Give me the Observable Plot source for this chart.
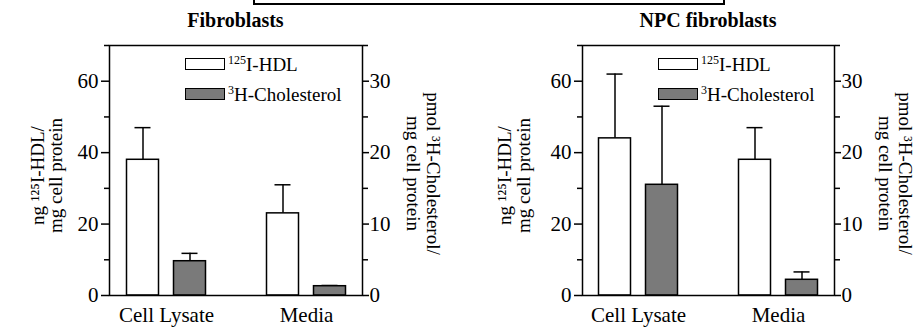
<!DOCTYPE html>
<html><head><meta charset="utf-8">
<script src="https://cdn.jsdelivr.net/npm/d3@7"></script>
<script src="https://cdn.jsdelivr.net/npm/@observablehq/plot@0.6"></script>
<style>
body{margin:0;background:#fff;font-family:"Liberation Serif",serif;color:#000;}
#wrap{position:relative;width:919px;height:328px;overflow:hidden;background:#fff;}
#wrap svg, #wrap svg text{font-family:"Liberation Serif",serif !important;}
#box{position:absolute;left:253px;top:-10px;width:472px;height:15px;border:2.5px solid #000;box-sizing:border-box;}
.panel{position:absolute;top:0;height:328px;}
.title{position:absolute;top:10px;height:20px;line-height:20px;font-size:20px;font-weight:bold;text-align:center;white-space:nowrap;}
.chart{position:absolute;top:34px;left:0;}
.sw{position:absolute;width:40px;height:12px;border:1.5px solid #000;box-sizing:border-box;}
.lt{position:absolute;font-size:19px;line-height:19px;white-space:nowrap;}
.lt sup{font-size:12px;vertical-align:0;position:relative;top:-7px;}
</style></head><body>
<div id="wrap"><div id="box"></div></div>
<script>
// ---- data ----
const groups = ["Cell Lysate", "Media"];
const panelTitles = ["Fibroblasts", "NPC fibroblasts"];
const hdlFibro = [38, 23];
const hdlFibroSD = [9, 8];
const cholFibro = [4.8, 1.3];
const cholFibroSD = [1.1, 0.1];
const hdlNPC = [44, 38];
const hdlNPCSD = [18, 9];
const cholNPC = [15.5, 2.2];
const cholNPCSD = [11, 1.1];
const leftTicks = [0, 20, 40, 60];
const leftMinor = [10, 30, 50, 70];
const rightTicks = [0, 10, 20, 30];
const rightMinor = [5, 15, 25, 35];
const yMax = 70, y2Max = 35;
const leftLabel = "ng ¹²⁵I-HDL/\nmg cell protein";
const rightLabel = "pmol ³H-Cholesterol/\nmg cell protein";
const legendNames = [["125", "I-HDL"], ["3", "H-Cholesterol"]];
const hdlFill = "#ffffff", cholFill = "#7a7a7a";

const k = yMax / y2Max;
const FF = "Liberation Serif";
const wrap = document.getElementById("wrap");

function makePanel(cfg) {
  const data = groups.map((g, i) => ({group: g, hdl: cfg.hdl[i], hdlSD: cfg.hdlSD[i], chol: cfg.chol[i], cholSD: cfg.cholSD[i]}));
  const panel = document.createElement("div");
  panel.className = "panel";
  panel.style.left = cfg.left + "px";
  panel.style.width = cfg.width + "px";
  wrap.appendChild(panel);

  const title = document.createElement("div");
  title.className = "title";
  title.style.left = cfg.ml + "px";
  title.style.width = (cfg.width - cfg.ml - cfg.mr) + "px";
  title.textContent = cfg.title;
  panel.appendChild(title);

  const off = 23.5, bi = 26, ci = 34;
  const chart = Plot.plot({
    width: cfg.width,
    height: 294,
    marginLeft: cfg.ml,
    marginRight: cfg.mr,
    marginTop: 11,
    marginBottom: 33,
    style: {fontFamily: FF, fontSize: "20px", color: "#000", background: "transparent", overflow: "visible"},
    x: {domain: groups, paddingInner: 0.4, paddingOuter: 0.1, axis: null},
    y: {domain: [0, yMax], axis: null},
    marks: [
      // error bars (upper only)
      Plot.ruleX(data, {x: "group", y1: "hdl", y2: d => d.hdl + d.hdlSD, dx: -off, stroke: "#000", strokeWidth: 1.5}),
      Plot.tickY(data, {x: "group", y: d => d.hdl + d.hdlSD, dx: -off, insetLeft: ci, insetRight: ci, stroke: "#000", strokeWidth: 1.5}),
      Plot.ruleX(data, {x: "group", y1: d => d.chol * k, y2: d => (d.chol + d.cholSD) * k, dx: off, stroke: "#000", strokeWidth: 1.5}),
      Plot.tickY(data, {x: "group", y: d => (d.chol + d.cholSD) * k, dx: off, insetLeft: ci, insetRight: ci, stroke: "#000", strokeWidth: 1.5}),
      // bars
      Plot.barY(data, {x: "group", y: "hdl", dx: -off, insetLeft: bi, insetRight: bi, fill: hdlFill, stroke: "#000", strokeWidth: 1.5}),
      Plot.barY(data, {x: "group", y: d => d.chol * k, dx: off, insetLeft: bi, insetRight: bi, fill: cholFill, stroke: "#000", strokeWidth: 1.5}),
      Plot.frame({stroke: "#000", strokeWidth: 1.5}),
      // left axis
      Plot.axisY(leftTicks, {anchor: "left", tickSize: 8, tickPadding: 3, fontSize: 21, fontFamily: FF, strokeWidth: 1.5, label: null}),
      Plot.axisY(leftMinor, {anchor: "left", tickSize: 5, tickFormat: () => "", strokeWidth: 1.5, label: null}),
      // right axis (cholesterol units)
      Plot.axisY(rightTicks.map(v => v * k), {anchor: "right", tickSize: 6, tickPadding: 1, fontSize: 21, fontFamily: FF, strokeWidth: 1.5, tickFormat: d => d / k, label: null}),
      Plot.axisY(rightMinor.map(v => v * k), {anchor: "right", tickSize: 5, tickFormat: () => "", strokeWidth: 1.5, label: null}),
      // x axis labels
      Plot.axisX({tickSize: 0, tickPadding: 12, fontSize: 21, fontFamily: FF, label: null}),
      // axis titles
      Plot.text([leftLabel], {text: d => d, frameAnchor: "left", rotate: -90, textAnchor: "middle", lineAnchor: "bottom", lineHeight: cfg.llh, fontSize: 19, fontFamily: FF, dx: cfg.ldx, dy: 5, fill: "#000"}),
      Plot.text([rightLabel], {text: d => d, frameAnchor: "right", rotate: 90, textAnchor: "middle", lineAnchor: "bottom", lineHeight: 1.1, fontSize: 19, fontFamily: FF, dx: 44, dy: 3, fill: "#000"})
    ]
  });
  chart.classList.add("chart");
  panel.appendChild(chart);

  // legend (inside plot area, top-left)
  const fills = [hdlFill, cholFill];
  legendNames.forEach((nm, i) => {
    const sw = document.createElement("div");
    sw.className = "sw";
    sw.style.left = (cfg.ml + 76) + "px";
    sw.style.top = (58 + i * 30) + "px";
    sw.style.background = fills[i];
    panel.appendChild(sw);
    const t = document.createElement("div");
    t.className = "lt";
    t.style.left = (cfg.ml + 76 + 43) + "px";
    t.style.top = (54.6 + i * 30) + "px";
    const sup = document.createElement("sup");
    sup.textContent = nm[0];
    t.appendChild(sup);
    t.appendChild(document.createTextNode(nm[1]));
    panel.appendChild(t);
  });
}

makePanel({left: 0, width: 460, ml: 109, mr: 98, title: panelTitles[0], hdl: hdlFibro, hdlSD: hdlFibroSD, chol: cholFibro, cholSD: cholFibroSD, ldx: -48, llh: 0.92});
makePanel({left: 460, width: 459, ml: 122, mr: 85, title: panelTitles[1], hdl: hdlNPC, hdlSD: hdlNPCSD, chol: cholNPC, cholSD: cholNPCSD, ldx: -53, llh: 1.0});
</script>
</body></html>
